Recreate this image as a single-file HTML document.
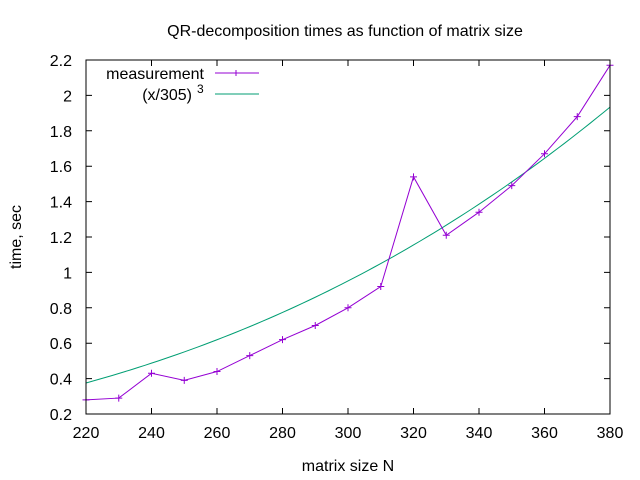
<!DOCTYPE html>
<html><head><meta charset="utf-8"><style>
body{margin:0;background:#fff}
svg{display:block;font-family:"Liberation Sans",sans-serif}
</style></head><body>
<svg id="chart" width="640" height="480" viewBox="0 0 640 480">
<text x="345" y="36" font-size="16" text-anchor="middle">QR-decomposition times as function of matrix size</text>
<text x="348" y="471" font-size="16" text-anchor="middle">matrix size N</text>
<text transform="translate(21,237) rotate(-90)" font-size="16" text-anchor="middle">time, sec</text>
<g id="axes"></g>
<g id="series"></g>
<rect x="86" y="60" width="524" height="354" fill="none" stroke="#000" stroke-width="1"/>
<g>
<text x="204" y="79" font-size="16" text-anchor="end">measurement</text>
<line x1="215" y1="73" x2="259" y2="73" stroke="#9400d3" stroke-width="1"/>
<path d="M233 73h6M236 70v6" stroke="#9400d3"/>
<text x="192" y="100" font-size="16" text-anchor="end">(x/305)</text>
<text x="197" y="93" font-size="12">3</text>
<line x1="215" y1="94" x2="259" y2="94" stroke="#009e73" stroke-width="1"/>
</g>
</svg>
<script>
const sizes=[220,230,240,250,260,270,280,290,300,310,320,330,340,350,360,370,380];
const times=[0.28,0.29,0.43,0.39,0.44,0.53,0.62,0.70,0.80,0.92,1.54,1.21,1.34,1.49,1.67,1.88,2.17];
const xTicks=[220,240,260,280,300,320,340,360,380];
const yTicks=[0.2,0.4,0.6,0.8,1,1.2,1.4,1.6,1.8,2,2.2];
const fitDivisor=305;
const L=86,R=610,T=60,B=414;
const X=v=>L+(v-220)/(380-220)*(R-L);
const Y=v=>B-(v-0.2)/(2.2-0.2)*(B-T);
const NS='http://www.w3.org/2000/svg';
const ax=document.getElementById('axes'),sg=document.getElementById('series');
function mk(tag,attrs,parent){const e=document.createElementNS(NS,tag);for(const k in attrs)e.setAttribute(k,attrs[k]);parent.appendChild(e);return e;}
xTicks.forEach(v=>{
 const x=X(v);
 const t=mk('path',{d:`M${x} ${B}v-6M${x} ${T}v6`,stroke:'#000'},ax);
 
 
 const l=mk('text',{x:x,y:B+24,'font-size':16,'text-anchor':'middle'},ax);l.textContent=v;
 
 
});
yTicks.forEach(v=>{
 const y=Y(v);
 const t=mk('path',{d:`M${L} ${y}h6M${R} ${y}h-6`,stroke:'#000'},ax);
 
 
 const l=mk('text',{x:L-14,y:y+6,'font-size':16,'text-anchor':'end'},ax);l.textContent=String(v);
 
 
});
let fp='';
for(let n=220;n<=380;n+=2){const v=Math.pow(n/fitDivisor,3);fp+=(fp?'L':'M')+X(n)+' '+Y(v);}
const fit=mk('path',{d:fp,fill:'none',stroke:'#009e73','stroke-width':1},sg);


const mp=sizes.map((s,i)=>(i?'L':'M')+X(s)+' '+Y(times[i])).join('');
const ml=mk('path',{d:mp,fill:'none',stroke:'#9400d3','stroke-width':1},sg);


sizes.forEach((s,i)=>{
 const x=X(s),y=Y(times[i]);
 const p=mk('path',{d:`M${x-3.5} ${y}h7M${x} ${y-3.5}v7`,stroke:'#9400d3'},sg);
 
 
});
</script>
</body></html>
